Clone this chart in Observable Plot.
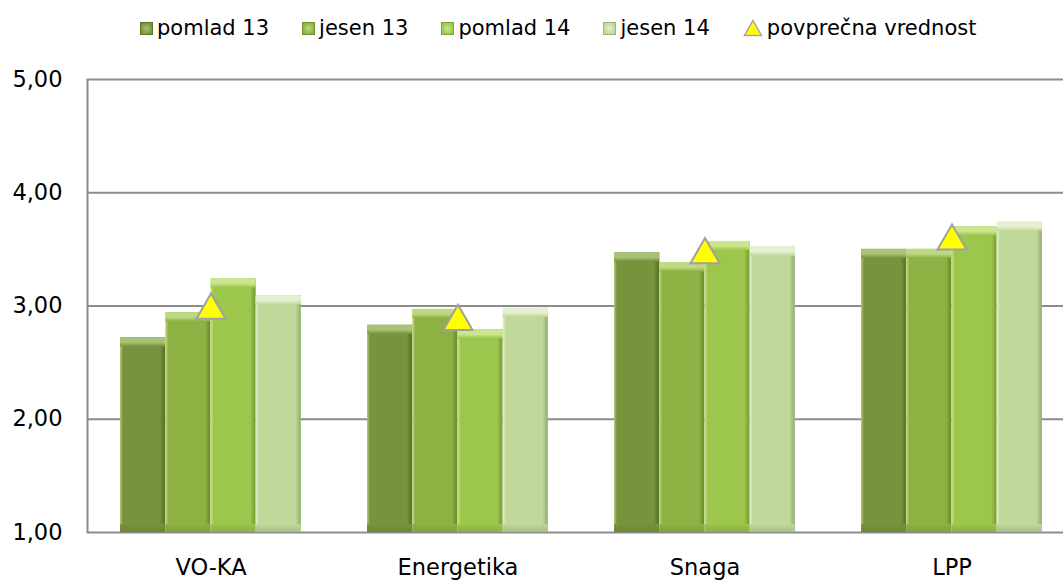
<!DOCTYPE html>
<html><head><meta charset="utf-8">
<script src="https://cdn.jsdelivr.net/npm/d3@7"></script>
<script src="https://cdn.jsdelivr.net/npm/@observablehq/plot@0.6"></script>
<style>
html,body{margin:0;padding:0;background:#fff;overflow:hidden;}
body{width:1063px;height:580px;font-family:"DejaVu Sans",sans-serif;color:#000;}
#legend{height:50px;display:flex;align-items:center;padding-left:140px;padding-top:6px;box-sizing:border-box;font-size:21px;white-space:nowrap;}
.item{display:flex;align-items:center;margin-right:33px;}
.item svg{margin-right:4px;display:block;}
#chart svg{display:block;}
</style></head><body>
<div id="legend"></div>
<div id="chart"></div>
<script>
const categories = ["VO-KA", "Energetika", "Snaga", "LPP"];
const seriesNames = ["pomlad 13", "jesen 13", "pomlad 14", "jesen 14"];
const pomlad13 = [2.72, 2.83, 3.47, 3.50];
const jesen13  = [2.94, 2.97, 3.38, 3.50];
const pomlad14 = [3.24, 2.79, 3.57, 3.70];
const jesen14  = [3.09, 2.98, 3.52, 3.74];
const average  = [3.00, 2.90, 3.49, 3.61];
const averageName = "povprečna vrednost";
const yTicks = [1, 2, 3, 4, 5];
const yTickLabels = ["1,00", "2,00", "3,00", "4,00", "5,00"];
const gridValues = [2, 3, 4];

const seriesValues = [pomlad13, jesen13, pomlad14, jesen14];
const palette = [
  {base: "#77933C", light: "#A8C276", dark: "#5C7729", bottom: "#6B8633"},
  {base: "#8DB243", light: "#BDD982", dark: "#6E902F", bottom: "#7FA03A"},
  {base: "#9CC64C", light: "#CBE68F", dark: "#7CA336", bottom: "#8BB041"},
  {base: "#C0D899", light: "#E4F0D0", dark: "#9CB579", bottom: "#A8BE86"}
];

// legend
const legend = document.getElementById("legend");
seriesNames.forEach((name, j) => {
  const p = palette[j];
  const it = document.createElement("div");
  it.className = "item";
  it.innerHTML = `<svg width="13" height="13"><defs><radialGradient id="lg${j}"><stop offset="0" stop-color="${p.light}"/><stop offset="1" stop-color="${p.base}"/></radialGradient></defs><rect x="0.5" y="0.5" width="12" height="12" fill="url(#lg${j})" stroke="${p.dark}" stroke-width="1"/></svg><span>${name}</span>`;
  legend.appendChild(it);
});
{
  const it = document.createElement("div");
  it.className = "item";
  it.innerHTML = `<svg width="20" height="18"><polygon points="10,1.5 18.5,16.5 1.5,16.5" fill="#FFFF00" stroke="#A6A6A6" stroke-width="1.5"/></svg><span>${averageName}</span>`;
  legend.appendChild(it);
}

// data rows
const rows = [];
seriesValues.forEach((vals, j) => vals.forEach((v, i) => rows.push({cat: i, s: j, v})));
const bw = 0.183, g0 = -0.366, bevel = 0.08, bevelBottom = 0.07;
const x1 = d => d.cat + g0 + d.s * bw;
const x2 = d => d.cat + g0 + (d.s + 1) * bw;

const barMarks = [];
seriesNames.forEach((name, j) => {
  const data = rows.filter(r => r.s === j);
  barMarks.push(Plot.rect(data, {x1, x2, y1: 1, y2: d => d.v, fill: `url(#gh${j})`}));
  barMarks.push(Plot.rect(data, {x1, x2, y1: 1, y2: 1 + bevelBottom, fill: `url(#gb${j})`}));
  barMarks.push(Plot.rect(data, {x1, x2, y1: d => d.v - bevel, y2: d => d.v, fill: `url(#gt${j})`}));
});

const svg = Plot.plot({
  width: 1063,
  height: 530,
  marginLeft: 87,
  marginRight: -12,
  marginTop: 29,
  marginBottom: 48,
  style: {fontFamily: "DejaVu Sans, sans-serif", color: "#000", background: "#fff", overflow: "hidden"},
  x: {type: "linear", domain: [-0.5, categories.length - 0.5]},
  y: {domain: [1, 5]},
  marks: [
    Plot.ruleY(gridValues, {stroke: "#8C8C8C", strokeWidth: 2}),
    Plot.frame({stroke: "#8C8C8C", strokeWidth: 2}),
    ...barMarks,
    Plot.dot(average, {x: (d, i) => i, y: d => d, symbol: "triangle", r: 10.8, fill: "#FFFF00", stroke: "#A0A0A0", strokeWidth: 2, dy: 4.3}),
    Plot.axisY(yTicks, {tickFormat: (d, i) => yTickLabels[i], tickSize: 0, tickPadding: 25, fontSize: 22.5, label: null}),
    Plot.axisX(d3.range(categories.length), {tickFormat: i => categories[i], tickSize: 0, tickPadding: 27, fontSize: 22.5, label: null})
  ]
});

const defs = d3.select(svg).insert("defs", ":first-child");
palette.forEach((p, j) => {
  const gh = defs.append("linearGradient").attr("id", `gh${j}`).attr("x1", 0).attr("y1", 0).attr("x2", 1).attr("y2", 0);
  [[0, p.light], [0.07, p.base], [0.88, p.base], [0.97, p.dark], [1, p.dark]].forEach(([o, c]) => gh.append("stop").attr("offset", o).attr("stop-color", c));
  const gt = defs.append("linearGradient").attr("id", `gt${j}`).attr("x1", 0).attr("y1", 0).attr("x2", 0).attr("y2", 1);
  [[0, p.light], [0.55, p.light], [1, p.base]].forEach(([o, c]) => gt.append("stop").attr("offset", o).attr("stop-color", c));
  const gb = defs.append("linearGradient").attr("id", `gb${j}`).attr("x1", 0).attr("y1", 0).attr("x2", 0).attr("y2", 1);
  [[0, p.base], [1, p.bottom]].forEach(([o, c]) => gb.append("stop").attr("offset", o).attr("stop-color", c));
});

document.getElementById("chart").appendChild(svg);
</script>
</body></html>
